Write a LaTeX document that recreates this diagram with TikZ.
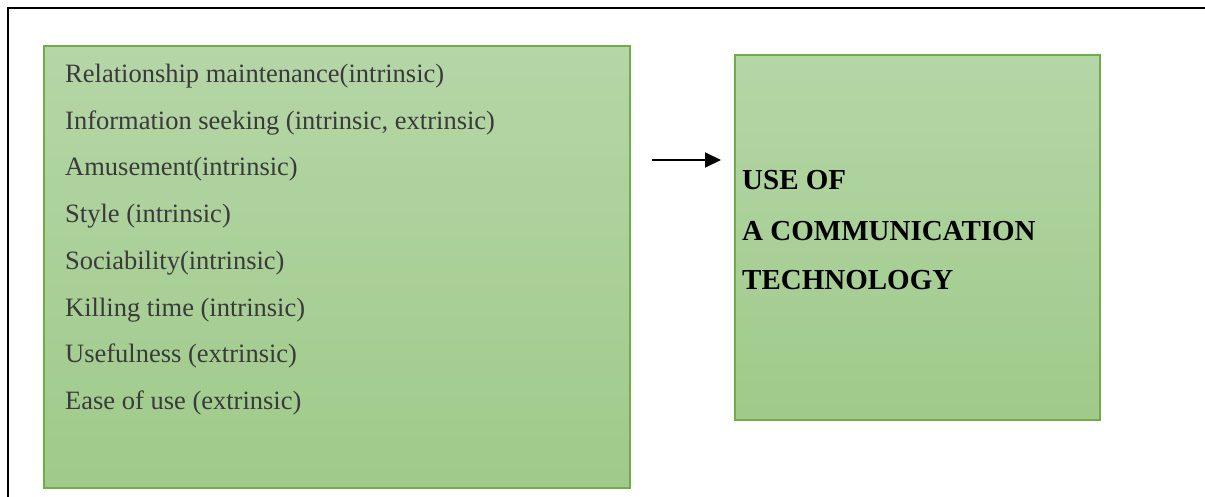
\documentclass[tikz,border=0pt]{standalone}
\usepackage{fontspec}
\setmainfont{Liberation Serif}
\usetikzlibrary{arrows.meta}
\definecolor{gtop}{HTML}{B5D6A7}
\definecolor{gbot}{HTML}{9FCA8A}
\definecolor{gborder}{HTML}{70AD47}
\definecolor{txt}{HTML}{3A3A3A}
\tikzset{
  greenbox/.style={draw=gborder, line width=1.2pt, top color=gtop, bottom color=gbot},
  itemtext/.style={anchor=base west, inner sep=0pt, text=txt, font=\fontsize{26.5}{26.5}\selectfont},
  boldtext/.style={anchor=base west, inner sep=0pt, text=black, font=\fontsize{29}{29}\selectfont\bfseries},
  frameline/.style={line width=2.5pt, black},
  arrowline/.style={line width=1.8pt, -{Triangle[length=16pt,width=15pt]}}
}
\begin{document}
\begin{tikzpicture}[x=1pt,y=-1pt]
\useasboundingbox (0,0) rectangle (1205,497);
% outer frame
\coordinate (ftl) at (8,8);
\coordinate (ftr) at (1205,8);
\coordinate (fbl) at (8,497);
\draw[frameline] (ftr) -- (ftl) -- (fbl);
% boxes
\path[greenbox] (44,46) rectangle (630,488);
\node[inner sep=0pt, minimum size=0pt] (left) at (337,267) {};
\path[greenbox] (735,55) rectangle (1100,420);
\node[inner sep=0pt, minimum size=0pt] (right) at (917,237) {};
% items
\node[itemtext] (i1) at (65,82.5) {Relationship maintenance(intrinsic)};
\node[itemtext] (i2) at (65,129.2) {Information seeking (intrinsic, extrinsic)};
\node[itemtext] (i3) at (65,175.9) {Amusement(intrinsic)};
\node[itemtext] (i4) at (65,222.6) {Style (intrinsic)};
\node[itemtext] (i5) at (65,269.3) {Sociability(intrinsic)};
\node[itemtext] (i6) at (65,316) {Killing time (intrinsic)};
\node[itemtext] (i7) at (65,362.7) {Usefulness (extrinsic)};
\node[itemtext] (i8) at (65,409.4) {Ease of use (extrinsic)};
% right text
\node[boldtext] (t1) at (742,190) {USE OF};
\node[boldtext] (t2) at (742,240.5) {A COMMUNICATION};
\node[boldtext] (t3) at (742,289) {TECHNOLOGY};
% arrow
\coordinate (as) at (652,160);
\coordinate (ae) at (721,160);
\draw[arrowline] (as) -- (ae);
\end{tikzpicture}
\end{document}
